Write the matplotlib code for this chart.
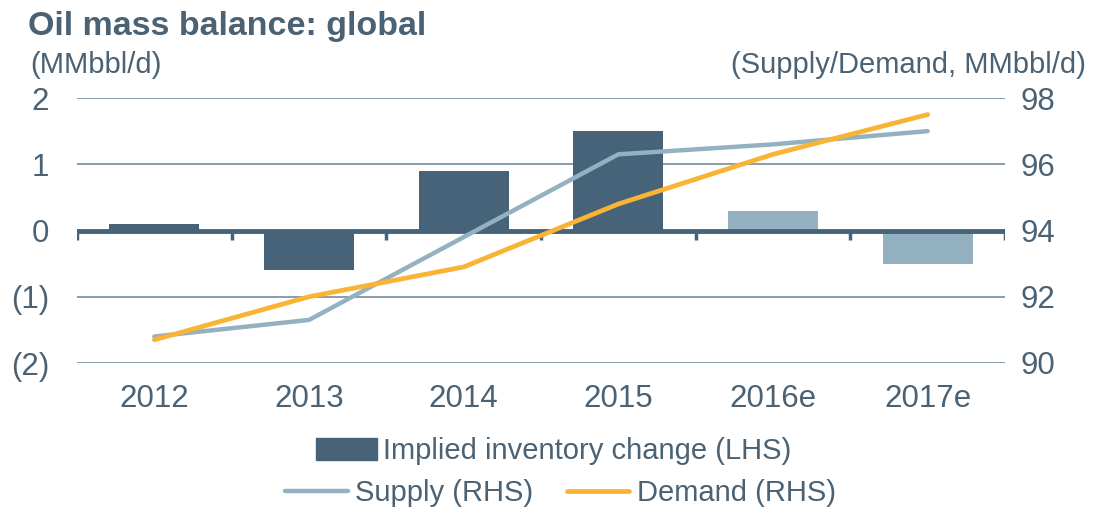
import numpy as np
import matplotlib.pyplot as plt

# data
years = ['2012', '2013', '2014', '2015', '2016e', '2017e']
inventory = [0.1, -0.6, 0.9, 1.5, 0.3, -0.5]
supply = [90.8, 91.3, 93.8, 96.3, 96.6, 97.0]
demand = [90.7, 92.0, 92.9, 94.8, 96.3, 97.5]
left_ticks = [-2, -1, 0, 1, 2]
left_labels = ['(2)', '(1)', '0', '1', '2']
right_ticks = [90, 92, 94, 96, 98]

dark = '#47637A'
light = '#93B1C0'
orange = '#F9B335'
txt = '#4A6274'
grid_c = '#7F95A4'

plt.rcParams['font.family'] = ['Liberation Sans', 'DejaVu Sans']

fig = plt.figure(figsize=(11.14, 5.12), dpi=100)
ax = fig.add_axes([77 / 1114, 1 - 363 / 512, (1005 - 77) / 1114, (363 - 98) / 512])
x = np.arange(len(years))

bar_colors = [dark] * 4 + [light] * 2
ax.bar(x, inventory, width=0.58, color=bar_colors, zorder=2)
ax.set_ylim(-2, 2)
ax.set_xlim(-0.5, len(years) - 0.5)
ax.set_yticks(left_ticks)
ax.set_yticklabels(left_labels)
for g in [-2, -1, 1, 2]:
    ax.axhline(g, color=grid_c, lw=1.3, zorder=1)
ax.axhline(0, color=dark, lw=3.5, zorder=3)
ax.vlines(np.arange(len(years) + 1) - 0.5, -0.14, 0, color=dark, lw=2.5, zorder=3)

ax.set_xticks(x)
ax.set_xticklabels(years)
ax.tick_params(axis='x', length=0, pad=15, labelsize=22.5, labelcolor=txt)
ax.tick_params(axis='y', length=0, pad=20, labelsize=22.5, labelcolor=txt)
for s in ax.spines.values():
    s.set_visible(False)

ax2 = ax.twinx()
ax2.plot(x, supply, color=light, lw=3.2, solid_capstyle='round', label='Supply (RHS)')
ax2.plot(x, demand, color=orange, lw=3.4, solid_capstyle='round', label='Demand (RHS)')
ax2.set_ylim(90, 98)
ax2.set_yticks(right_ticks)
ax2.tick_params(axis='y', length=0, pad=11, labelsize=22.5, labelcolor=txt)
for s in ax2.spines.values():
    s.set_visible(False)

fig.text(28 / 1114, 1 - 35 / 512, 'Oil mass balance: global', fontsize=24.5,
         fontweight='bold', color=txt, ha='left', va='baseline')
fig.text(30 / 1114, 1 - 73 / 512, '(MMbbl/d)', fontsize=21, color=txt,
         ha='left', va='baseline')
fig.text(1086 / 1114, 1 - 73 / 512, '(Supply/Demand, MMbbl/d)', fontsize=21,
         color=txt, ha='right', va='baseline')

bar_handle = plt.Rectangle((0, 0), 1, 1, color=dark)
leg1 = fig.legend([bar_handle], ['Implied inventory change (LHS)'],
                  loc='center', bbox_to_anchor=(0.497, 1 - 451 / 512), frameon=False,
                  fontsize=21, handlelength=2.1, handleheight=0.75, handletextpad=0.2,
                  labelcolor=txt, borderpad=0, borderaxespad=0)
h, l = ax2.get_legend_handles_labels()
leg2 = fig.legend(h, l, loc='center', bbox_to_anchor=(0.503, 1 - 493 / 512), ncol=2,
                  frameon=False, fontsize=21, handlelength=2.15, handletextpad=0.25,
                  columnspacing=1.15, labelcolor=txt, borderpad=0, borderaxespad=0)

fig.savefig('out.png', dpi=100)
